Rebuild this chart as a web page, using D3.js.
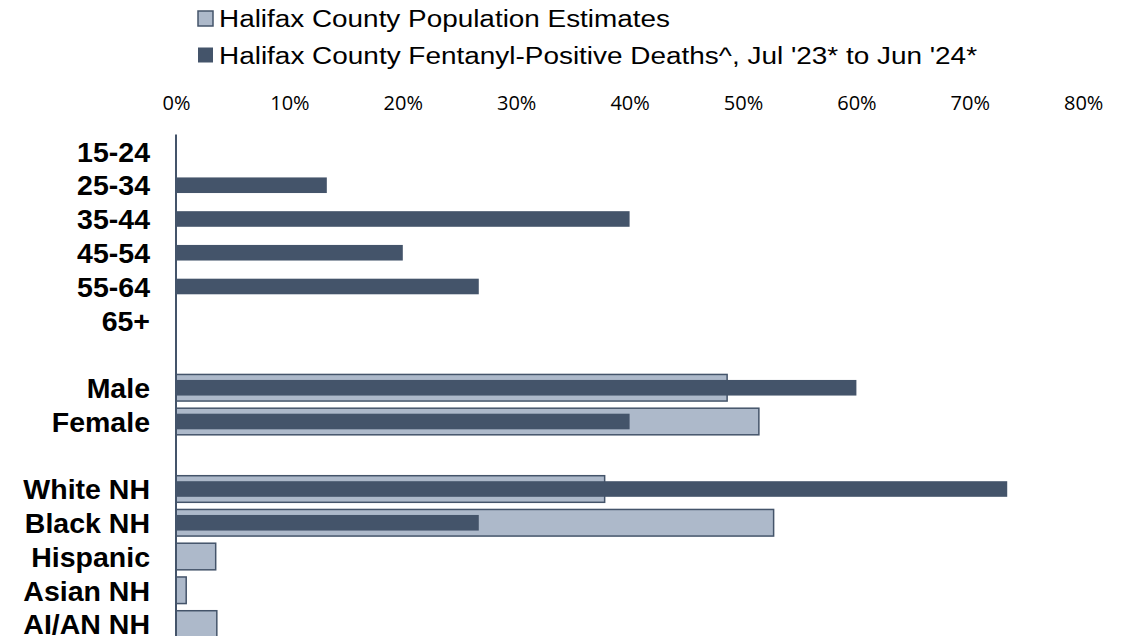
<!DOCTYPE html>
<html>
<head>
<meta charset="utf-8">
<script src="https://cdn.jsdelivr.net/npm/d3@7"></script>
<style>
  body { margin: 0; background: #fff; }
</style>
</head>
<body>
<div id="vis"></div>
<script>
    // categories, blank rows are the gaps between groups
    var categories = ["15-24", "25-34", "35-44", "45-54", "55-64", "65+", "gap1",
                      "Male", "Female", "gap2",
                      "White NH", "Black NH", "Hispanic", "Asian NH", "AI/AN NH"];
    var population = [null, null, null, null, null, null, null,
                      48.6, 51.4, null,
                      37.8, 52.7, 3.5, 0.9, 3.6];
    var deaths = [0, 13.3, 40, 20, 26.7, 0, null,
                  60, 40, null,
                  73.3, 26.7, 0, 0, 0];
    var tickValues = [0, 10, 20, 30, 40, 50, 60, 70, 80];
    var legendLabels = ["Halifax County Population Estimates",
                        "Halifax County Fentanyl-Positive Deaths^, Jul '23* to Jun '24*"];

    var dark = "#44546A", light = "#ADB9CA";

    var svg = d3.select("#vis").append("svg").attr("width", 1128).attr("height", 636);

    var x = d3.scaleLinear().domain([0, 80]).range([176, 1083.2]),
        y = d3.scaleBand().domain(categories).range([134.6, 640.9]);

    var rows = categories.map(function (c, i) {
        return { cat: c, pop: population[i], dth: deaths[i] };
    });

    // population bars (wide, outlined)
    svg.append("g").selectAll("rect")
        .data(rows.filter(function (d) { return d.pop != null; }))
        .join("rect")
        .attr("x", x(0))
        .attr("y", function (d) { return y(d.cat) + y.bandwidth() / 2 - 13.3; })
        .attr("width", function (d) { return x(d.pop) - x(0); })
        .attr("height", 26.6)
        .attr("fill", light)
        .attr("stroke", dark)
        .attr("stroke-width", 1.5);

    // deaths bars (narrow)
    svg.append("g").selectAll("rect")
        .data(rows.filter(function (d) { return d.dth; }))
        .join("rect")
        .attr("x", x(0))
        .attr("y", function (d) { return y(d.cat) + y.bandwidth() / 2 - 7.8; })
        .attr("width", function (d) { return x(d.dth) - x(0); })
        .attr("height", 15.6)
        .attr("fill", dark);

    // y axis: just the line and bold labels
    svg.append("line")
        .attr("x1", x(0)).attr("x2", x(0))
        .attr("y1", y.range()[0]).attr("y2", 636)
        .attr("stroke", dark).attr("stroke-width", 2);

    svg.append("g").selectAll("text")
        .data(categories.filter(function (c) { return c.indexOf("gap") !== 0; }))
        .join("text")
        .attr("x", 150)
        .attr("y", function (d) { return y(d) + y.bandwidth() / 2; })
        .attr("dy", "0.36em")
        .attr("text-anchor", "end")
        .style("font-family", "'Liberation Sans', Arial, sans-serif")
        .style("font-weight", "bold")
        .style("font-size", "28.5px")
        .attr("fill", "#000")
        .text(function (d) { return d; });

    // top axis labels
    var xAxis = d3.axisTop(x).tickValues(tickValues).tickSize(0).tickPadding(0)
        .tickFormat(function (d) { return d + "%"; });
    var gx = svg.append("g").attr("transform", "translate(0,110)").call(xAxis);
    gx.select(".domain").remove();
    gx.selectAll("text")
        .style("font-family", "'Open Sans', sans-serif")
        .style("font-size", "20px")
        .attr("fill", "#000");

    // legend
    var legend = svg.append("g").selectAll("g")
        .data(legendLabels)
        .join("g")
        .attr("transform", function (d, i) { return "translate(198," + (11 + i * 36.5) + ")"; });

    legend.append("rect")
        .attr("width", 15).attr("height", 15)
        .attr("fill", function (d, i) { return i === 0 ? light : dark; })
        .attr("stroke", dark)
        .attr("stroke-width", function (d, i) { return i === 0 ? 1.5 : 0; });

    legend.append("text")
        .attr("x", 21)
        .attr("y", 16)
        .attr("textLength", function (d, i) { return i === 0 ? 451 : 758; })
        .attr("lengthAdjust", "spacingAndGlyphs")
        .style("font-family", "'Liberation Sans', Arial, sans-serif")
        .style("font-size", "23px")
        .attr("fill", "#000")
        .text(function (d) { return d; });
</script>
</body>
</html>
